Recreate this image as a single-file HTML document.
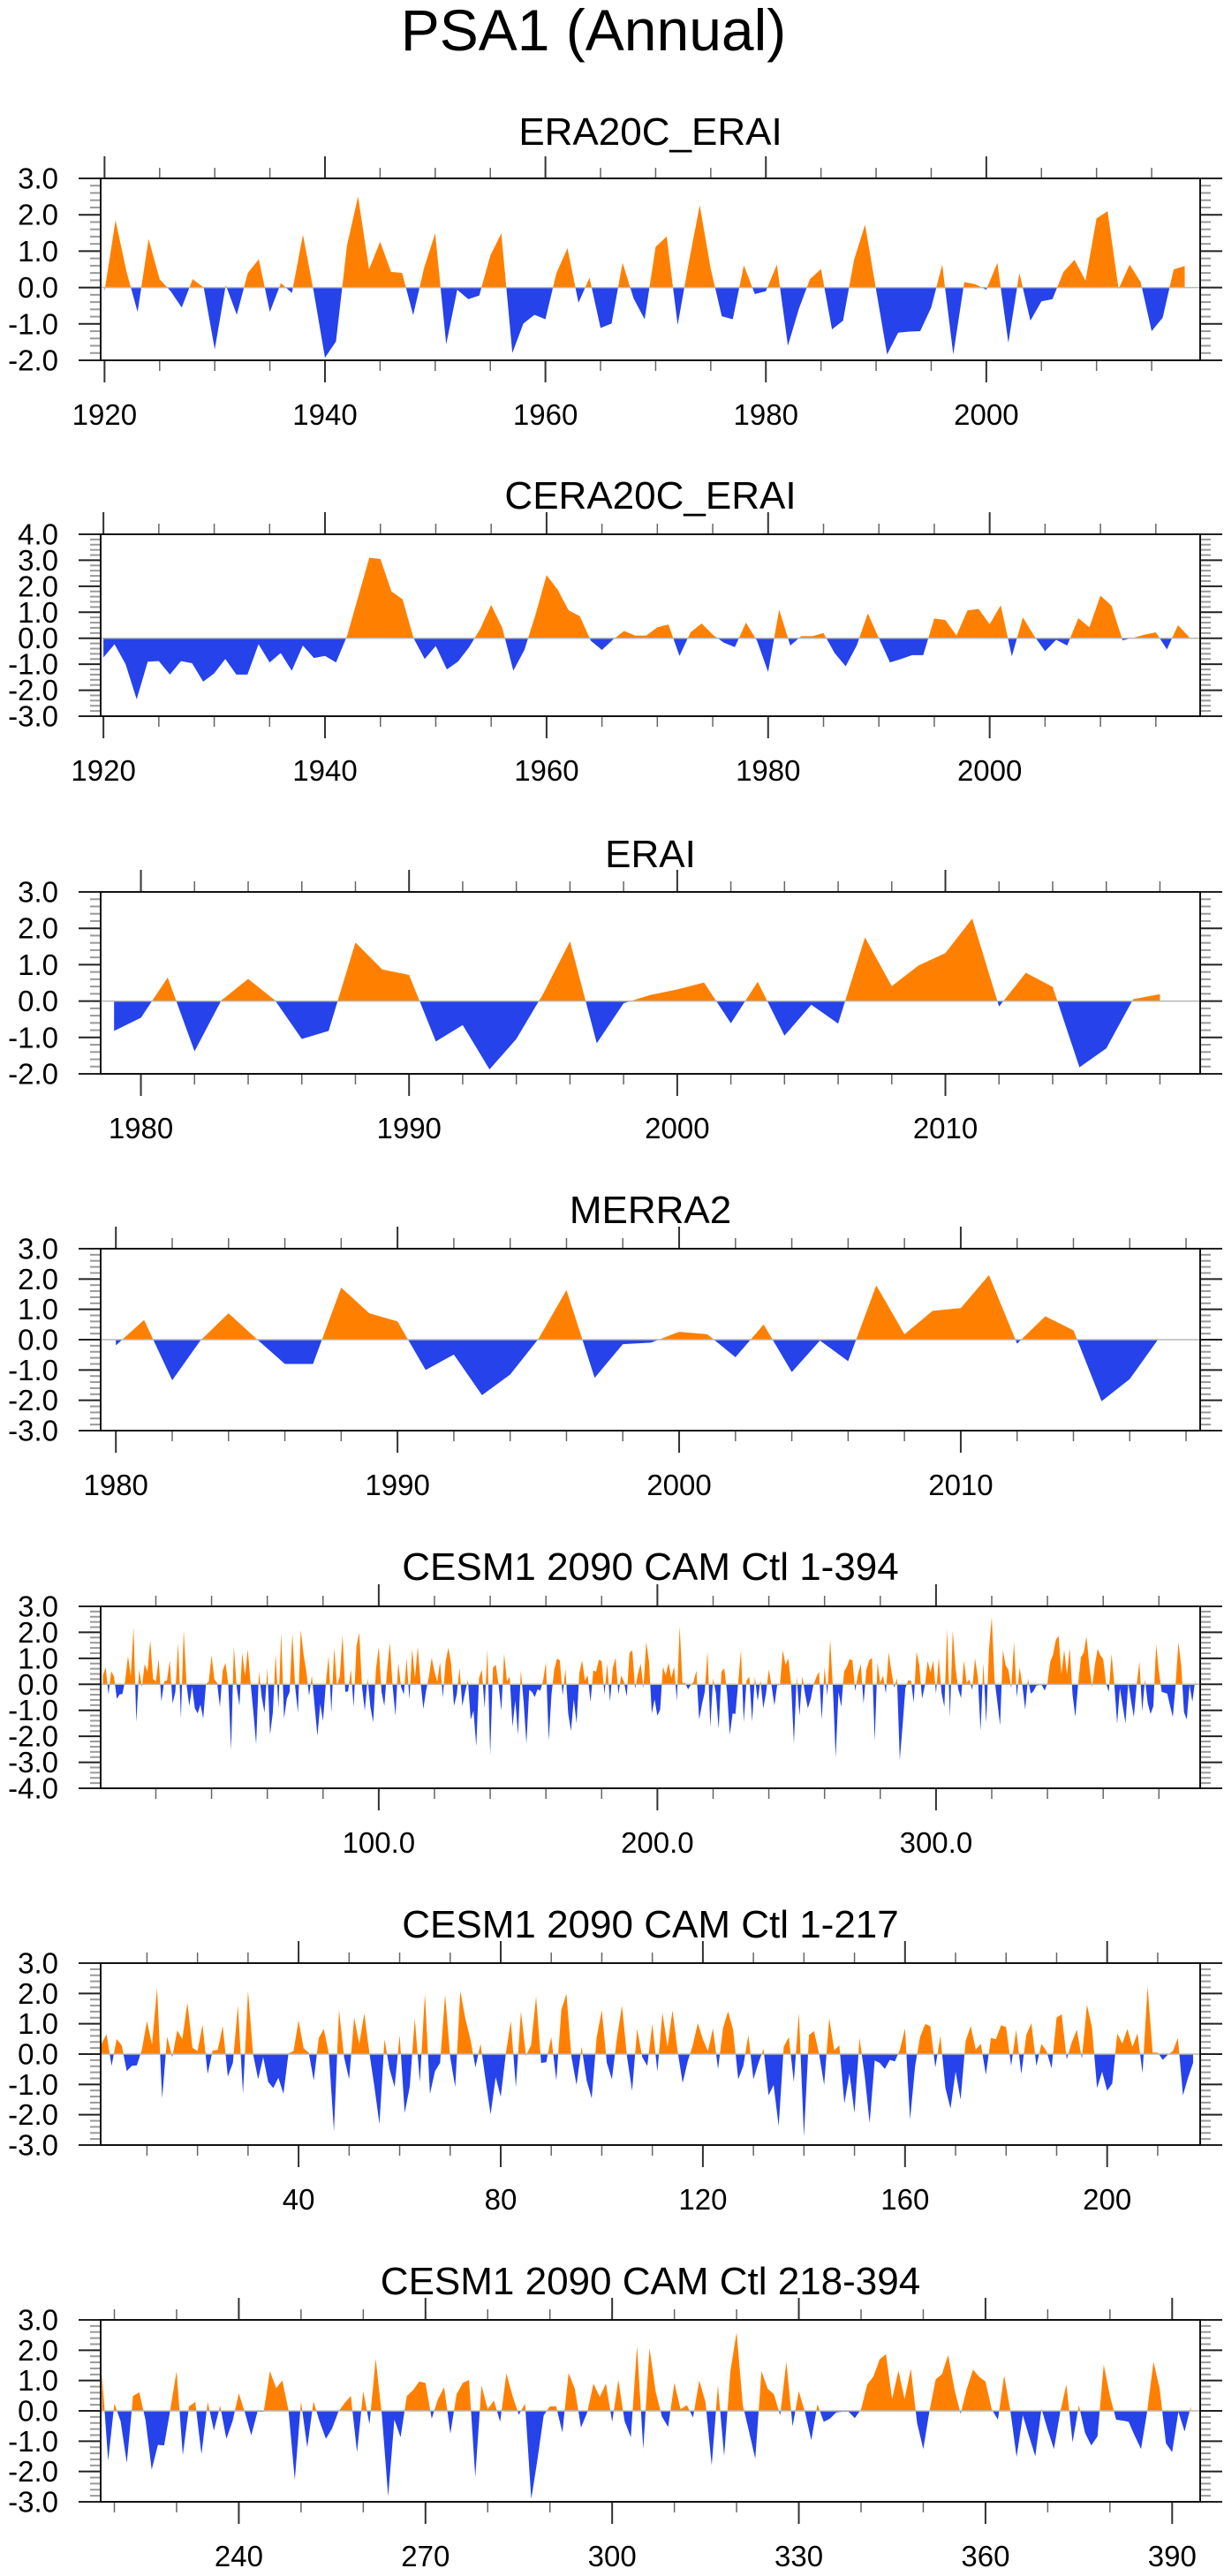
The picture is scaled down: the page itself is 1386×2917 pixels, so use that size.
<!DOCTYPE html>
<html><head><meta charset="utf-8"><title>PSA1 (Annual)</title>
<style>
html,body{margin:0;padding:0;background:#fff;}
svg{display:block;font-family:"Liberation Sans",Arial,sans-serif;}
</style></head>
<body>
<svg id="chart" width="1386" height="2917" viewBox="0 0 1386 2917" xmlns="http://www.w3.org/2000/svg">
<text x="672" y="57" font-size="66" text-anchor="middle" fill="#000">PSA1 (Annual)</text>
</svg>
<script>
// ---- data ----
const era20cValues = [-0.1,1.85,0.43,-0.67,1.33,0.23,-0.1,-0.55,0.23,0.0,
-1.7,0.07,-0.75,0.4,0.78,-0.67,0.12,-0.15,1.45,-0.15,
-1.93,-1.48,1.16,2.5,0.5,1.26,0.43,0.4,-0.76,0.55,
1.49,-1.56,-0.06,-0.32,-0.22,0.88,1.49,-1.8,-0.99,-0.75,
-0.87,0.4,1.08,-0.42,0.27,-1.11,-0.99,0.68,-0.3,-0.87,
1.12,1.4,-1.03,0.68,2.26,0.51,-0.79,-0.87,0.61,-0.18,
-0.1,0.63,-1.6,-0.58,0.23,0.51,-1.15,-0.91,0.76,1.73,
-0.06,-1.84,-1.24,-1.21,-1.2,-0.55,0.63,-1.84,0.15,0.09,
-0.06,0.68,-1.52,0.4,-0.91,-0.38,-0.32,0.43,0.76,0.19,
1.9,2.1,-0.04,0.63,0.15,-1.2,-0.83,0.5,0.59];
const era20cStartYear = 1920;

const cera20cValues = [-0.74,-0.23,-1.0,-2.35,-0.9,-0.88,-1.4,-0.88,-0.96,-1.67,
-1.35,-0.8,-1.4,-1.4,-0.23,-0.93,-0.57,-1.25,-0.28,-0.76,
-0.68,-0.93,0.1,1.6,3.1,3.05,1.8,1.5,0.0,-0.8,
-0.3,-1.2,-0.9,-0.35,0.35,1.28,0.4,-1.25,-0.45,0.9,
2.43,1.87,1.07,0.85,-0.1,-0.45,-0.05,0.28,0.1,0.1,
0.42,0.53,-0.68,0.23,0.57,0.14,-0.17,-0.34,0.6,-0.1,
-1.3,1.1,-0.28,0.08,0.08,0.2,-0.57,-1.08,-0.28,0.96,
0.0,-0.93,-0.8,-0.65,-0.65,0.76,0.7,0.11,1.07,1.13,
0.54,1.27,-0.7,0.8,0.1,-0.5,-0.06,-0.28,0.77,0.42,
1.64,1.25,-0.08,0.02,0.14,0.23,-0.43,0.5,0.05];
const cera20cStartYear = 1920;

const eraiValues = [-0.82,-0.46,0.65,-1.38,0.02,0.61,0.02,-1.04,-0.82,1.61,
0.87,0.72,-1.11,-0.66,-1.88,-1.04,0.2,1.64,-1.16,-0.06,
0.17,0.32,0.51,-0.61,0.53,-0.95,-0.1,-0.62,1.75,0.41,
0.98,1.32,2.27,-0.15,0.78,0.39,-1.82,-1.3,0.05,0.19];
const eraiStartYear = 1979;

const merra2Values = [-0.19,0.65,-1.34,-0.03,0.87,0.02,-0.8,-0.8,1.72,0.87,
0.6,-1.0,-0.49,-1.83,-1.15,0.02,1.64,-1.26,-0.15,-0.1,
0.26,0.18,-0.58,0.5,-1.07,-0.03,-0.71,1.79,0.18,0.95,
1.04,2.13,-0.13,0.77,0.31,-2.03,-1.3,0.0];
const merra2StartYear = 1980;

const cesmFirstValues = [0.34,0.65,-0.39,0.5,0.29,-0.56,-0.39,-0.37,0.15,1.09,
0.31,2.18,-1.46,0.58,-0.1,0.78,0.49,1.7,0.21,0.1,
0.97,-0.66,0.12,0.14,0.92,-0.74,-0.29,1.6,-1.31,2.09,
0.0,-0.83,-0.1,-0.92,-1.12,-0.78,-1.31,0.02,0.1,1.11,
0.19,0.05,-0.87,0.53,0.83,0.0,-2.54,1.46,-0.1,-0.83,
1.21,0.34,1.34,0.05,-1.07,-2.31,0.49,-0.49,-1.09,0.63,
-1.94,-1.07,1.17,-0.92,1.99,-1.31,-0.56,-0.29,1.96,-0.1,
-1.09,2.09,1.17,0.49,-0.44,0.34,-0.85,-1.99,-0.76,-1.41,
0.0,1.09,-1.09,1.41,-0.05,0.29,1.89,-0.29,-0.27,0.56,
-0.87,1.46,1.99,-0.1,-1.02,0.24,-0.87,-1.46,0.58,1.44,
-0.29,-0.83,0.53,1.6,-0.1,-1.21,0.83,-0.1,-0.39,0.99,
-0.58,1.36,0.24,1.44,0.1,-0.95,-0.24,0.29,1.02,0.49,
0.1,0.85,-0.5,0.87,1.41,0.78,-0.83,-0.39,0.63,-0.83,
-0.29,0.17,-1.36,-1.02,-2.38,0.24,0.56,-0.92,1.36,-2.72,
0.63,0.76,0.0,-1.02,1.18,0.12,0.29,-1.63,-0.63,-1.94,
0.53,-0.68,-2.28,-0.21,-0.29,-0.49,-0.19,-0.24,0.15,0.85,
-2.16,-0.39,0.58,0.99,0.92,-0.44,0.6,-1.12,-1.8,-0.58,
-1.5,0.44,0.92,0.15,0.34,-0.68,0.53,0.49,0.95,0.89,
-0.39,0.8,-0.66,0.63,1.02,-0.39,0.34,0.1,-0.47,1.21,
1.31,-0.17,0.39,0.8,-0.15,1.63,0.87,-1.12,-0.58,-1.21,
-0.97,0.68,0.34,0.83,0.24,0.68,-0.63,2.23,0.05,0.05,
-0.19,-0.02,0.1,0.53,-1.36,-0.78,-0.29];
const cesmFirstStart = 1;

const cesmSecondValues = [1.26,-1.65,0.24,-0.34,-1.72,0.49,0.61,-0.29,-1.94,-1.12,
-1.14,0.05,1.31,-1.46,0.15,0.29,-1.43,0.29,-0.65,0.17,
-0.92,-0.34,0.58,-0.07,-0.81,-0.03,-0.03,1.31,0.75,1.0,
0.0,-2.28,0.31,-1.21,0.31,-0.36,-0.92,-0.58,-0.03,0.26,
0.49,-1.36,0.65,-0.44,1.72,-0.15,-2.82,-0.29,-0.87,0.49,
0.68,0.97,0.92,-0.26,0.39,0.78,-0.75,0.55,0.92,1.02,
-2.18,0.84,0.05,0.34,-0.36,1.23,0.49,-0.13,0.24,-2.91,
-1.6,-0.15,0.15,0.15,-0.71,1.25,0.73,-0.55,-0.05,0.9,
0.46,0.9,-0.36,1.02,-0.34,-0.87,2.14,-1.26,2.07,0.63,
-0.19,-0.53,0.92,0.05,0.19,-0.22,1.0,0.29,-1.8,0.84,
-1.49,1.31,2.59,0.19,-0.68,-1.58,1.31,0.73,0.55,-0.15,
1.62,-0.51,0.65,-0.05,-0.97,0.22,-0.36,-0.26,-0.05,-0.03,
-0.03,-0.24,0.05,0.87,1.14,1.7,1.87,0.39,1.33,0.39,
1.39,-0.39,-1.26,0.0,1.04,1.21,1.84,0.73,-0.1,0.73,
1.36,1.12,0.97,0.05,-0.29,1.17,0.0,-1.52,-0.15,-0.83,
-1.5,0.07,-0.63,-1.26,-0.05,0.87,-1.04,0.19,-0.73,-1.14,
-0.84,1.52,0.49,-0.29,-0.32,-0.36,-0.83,-1.26,0.0,1.62,
0.73,-1.07,-1.36,-0.03,-0.68,0.15];
const cesmSecondStart = 218;

// tick label arrays
const yearTicks20 = [1920,1940,1960,1980,2000];
const yearTicks10a = [1980,1990,2000,2010];
const cesmAllTicks = ["100.0","200.0","300.0"];
const cesmFirstTicks = [40,80,120,160,200];
const cesmSecondTicks = [240,270,300,330,360,390];
</script>
<script>
const NS = "http://www.w3.org/2000/svg";
const svg = document.getElementById('chart');
const L = 114, R = 1359, H = 206;
const ORANGE = '#ff8000', BLUE = '#2642ea';
let clipId = 0;

function mk(tag, attrs, parent) {
  const e = document.createElementNS(NS, tag);
  for (const k in attrs) e.setAttribute(k, attrs[k]);
  (parent || svg).appendChild(e);
  return e;
}

function drawPanel(cfg) {
  const top = cfg.top, bottom = top + H;
  const g = mk('g', {});
  
  
  const px = x => L + (x - cfg.xmin) / (cfg.xmax - cfg.xmin) * (R - L);
  const py = y => top + (cfg.ymax - y) / (cfg.ymax - cfg.ymin) * H;
  const y0 = py(0);

  // title
  const t = mk('text', {x: (L + R) / 2, y: cfg.titleY, 'font-size': 44, 'text-anchor': 'middle', fill: '#000'}, g);
  t.textContent = cfg.title;
  
  

  // area path
  let d = 'M' + px(cfg.xs[0]).toFixed(2) + ',' + y0.toFixed(2);
  for (let i = 0; i < cfg.ys.length; i++) d += 'L' + px(cfg.xs[i]).toFixed(2) + ',' + py(cfg.ys[i]).toFixed(2);
  d += 'L' + px(cfg.xs[cfg.xs.length - 1]).toFixed(2) + ',' + y0.toFixed(2) + 'Z';
  const idA = 'ca' + (clipId++), idB = 'cb' + (clipId++);
  const defs = mk('defs', {}, g);
  const cA = mk('clipPath', {id: idA}, defs);
  mk('rect', {x: L, y: top, width: R - L, height: y0 - top}, cA);
  const cB = mk('clipPath', {id: idB}, defs);
  mk('rect', {x: L, y: y0, width: R - L, height: bottom - y0}, cB);
  const pa = mk('path', {d: d, fill: ORANGE, 'clip-path': 'url(#' + idA + ')'}, g);
  
  
  const pb = mk('path', {d: d, fill: BLUE, 'clip-path': 'url(#' + idB + ')'}, g);
  
  
  // zero line
  const zl = mk('line', {x1: L, x2: R, y1: y0, y2: y0, stroke: '#b8b8b8', 'stroke-width': 1.5}, g);
  
  

  // y ticks
  for (let v = cfg.ymin; v <= cfg.ymax + 1e-6; v += 0.2) {
    const vv = Math.round(v * 10) / 10;
    const y = py(vv);
    const major = Math.abs(vv - Math.round(vv)) < 1e-6;
    const len = major ? 25 : 12;
    const col = major ? '#222' : '#999';
    mk('line', {x1: L - len, x2: L, y1: y, y2: y, stroke: col, 'stroke-width': 2}, g);
    mk('line', {x1: R, x2: R + len, y1: y, y2: y, stroke: col, 'stroke-width': 2}, g);
    if (major) {
      const tl = mk('text', {x: 66, y: y + 11.5, 'font-size': 33, 'text-anchor': 'end', fill: '#000'}, g);
      tl.textContent = vv.toFixed(1);
      
      
    }
  }
  // x minor ticks
  const start = Math.ceil(cfg.xmin / cfg.minor) * cfg.minor;
  for (let x = start; x <= cfg.xmax + 1e-6; x += cfg.minor) {
    const X = px(x);
    mk('line', {x1: X, x2: X, y1: top - 12, y2: top, stroke: '#666', 'stroke-width': 1.5}, g);
    mk('line', {x1: X, x2: X, y1: bottom, y2: bottom + 12, stroke: '#666', 'stroke-width': 1.5}, g);
  }
  // x major ticks + labels
  for (let i = 0; i < cfg.majors.length; i++) {
    const X = px(cfg.majors[i]);
    mk('line', {x1: X, x2: X, y1: top - 25, y2: top, stroke: '#333', 'stroke-width': 2}, g);
    mk('line', {x1: X, x2: X, y1: bottom, y2: bottom + 25, stroke: '#333', 'stroke-width': 2}, g);
    const xl = mk('text', {x: X, y: bottom + 73, 'font-size': 33, 'text-anchor': 'middle', fill: '#000'}, g);
    xl.textContent = cfg.labels[i];
    
    
  }
  // frame
  const fr = mk('rect', {x: L, y: top, width: R - L, height: H, fill: 'none', stroke: '#111', 'stroke-width': 2}, g);
  
  
}

function seq(start, n) { const a = []; for (let i = 0; i < n; i++) a.push(start + i); return a; }

drawPanel({name: 'era20c-erai', title: 'ERA20C_ERAI', top: 202, titleY: 164,
  xs: seq(era20cStartYear, era20cValues.length), ys: era20cValues,
  xmin: 1919.65, xmax: 2019.4, ymin: -2, ymax: 3, minor: 5,
  majors: yearTicks20, labels: yearTicks20.map(String)});
drawPanel({name: 'cera20c-erai', title: 'CERA20C_ERAI', top: 605, titleY: 576,
  xs: seq(cera20cStartYear, cera20cValues.length), ys: cera20cValues,
  xmin: 1919.75, xmax: 2019.0, ymin: -3, ymax: 4, minor: 5,
  majors: yearTicks20, labels: yearTicks20.map(String)});
drawPanel({name: 'erai', title: 'ERAI', top: 1010, titleY: 982,
  xs: seq(eraiStartYear, eraiValues.length), ys: eraiValues,
  xmin: 1978.5, xmax: 2019.5, ymin: -2, ymax: 3, minor: 2,
  majors: yearTicks10a, labels: yearTicks10a.map(String)});
drawPanel({name: 'merra2', title: 'MERRA2', top: 1414, titleY: 1385,
  xs: seq(merra2StartYear, merra2Values.length), ys: merra2Values,
  xmin: 1979.46, xmax: 2018.5, ymin: -3, ymax: 3, minor: 2,
  majors: yearTicks10a, labels: yearTicks10a.map(String)});
const cesmAll = cesmFirstValues.concat(cesmSecondValues);
drawPanel({name: 'cesm-1-394', title: 'CESM1 2090 CAM Ctl 1-394', top: 1819, titleY: 1789,
  xs: seq(1, cesmAll.length), ys: cesmAll,
  xmin: 0.2, xmax: 394.8, ymin: -4, ymax: 3, minor: 20,
  majors: [100, 200, 300], labels: cesmAllTicks});
drawPanel({name: 'cesm-1-217', title: 'CESM1 2090 CAM Ctl 1-217', top: 2223, titleY: 2194,
  xs: seq(cesmFirstStart, cesmFirstValues.length), ys: cesmFirstValues,
  xmin: 0.84, xmax: 218.4, ymin: -3, ymax: 3, minor: 10,
  majors: cesmFirstTicks, labels: cesmFirstTicks.map(String)});
drawPanel({name: 'cesm-218-394', title: 'CESM1 2090 CAM Ctl 218-394', top: 2627, titleY: 2598,
  xs: seq(cesmSecondStart, cesmSecondValues.length), ys: cesmSecondValues,
  xmin: 217.8, xmax: 394.5, ymin: -3, ymax: 3, minor: 10,
  majors: cesmSecondTicks, labels: cesmSecondTicks.map(String)});
</script>
</body></html>
